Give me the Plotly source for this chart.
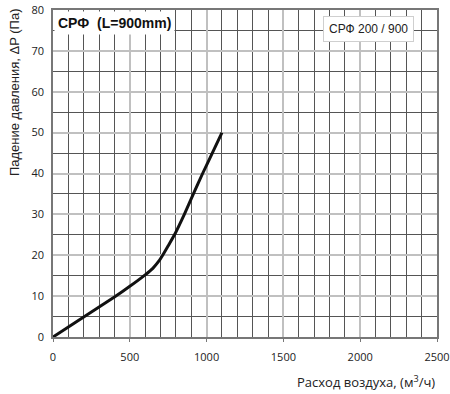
import plotly.graph_objects as go

# Data
airflow = [0, 100, 200, 300, 400, 500, 600, 650, 690, 714, 750, 791, 855, 914, 974, 1037, 1100]
pressure = [0, 2.45, 4.9, 7.35, 9.8, 12.4, 15.2, 16.8, 18.6, 20, 22.3, 25, 30, 35, 40, 45, 50]
series_name = "СРФ 200 / 900"
chart_title = "СРФ  (L=900mm)"
y_title = "Падение давления, ΔP (Па)"
x_title = "Расход воздуха, (м<sup>3</sup>/ч)"
x_ticks = [0, 500, 1000, 1500, 2000, 2500]
y_ticks = [0, 10, 20, 30, 40, 50, 60, 70, 80]

fig = go.Figure()
fig.add_trace(go.Scatter(x=airflow, y=pressure, mode="lines", name=series_name,
                         line=dict(color="#111111", width=3, shape="spline", smoothing=0.3),
                         showlegend=False))

tick_font = dict(family="Open Sans", size=11, color="#222")
fig.update_layout(
    width=450, height=394,
    margin=dict(l=53, r=13, t=10, b=57),
    paper_bgcolor="white", plot_bgcolor="white",
    xaxis=dict(range=[0, 2500], tickvals=x_ticks, showgrid=True, gridcolor="#c0c0c0", gridwidth=1.5,
               minor=dict(dtick=100, showgrid=True, gridcolor="#555555", gridwidth=1),
               showline=True, linecolor="#777", linewidth=1.5, mirror=True,
               ticks="outside", ticklen=3, tickcolor="#777", ticklabelstandoff=6,
               tickfont=tick_font, zeroline=False, fixedrange=True, automargin=False),
    yaxis=dict(range=[0, 80], tickvals=y_ticks, showgrid=True, gridcolor="#c0c0c0", gridwidth=1.5,
               minor=dict(dtick=5, showgrid=True, gridcolor="#555555", gridwidth=1),
               showline=True, linecolor="#777", linewidth=1.5, mirror=True,
               ticks="", tickfont=tick_font, zeroline=False, fixedrange=True, automargin=False,
               ticklabelstandoff=5),
    annotations=[
        dict(xref="paper", yref="paper", x=0.003, y=0.997, xanchor="left", yanchor="top",
             text="<b>" + chart_title + "</b>", showarrow=False,
             font=dict(family="Liberation Sans", size=14, color="#111"),
             bgcolor="white", borderpad=3),
        dict(xref="paper", yref="paper", x=0.94, y=0.982, xanchor="right", yanchor="top",
             text=series_name, showarrow=False,
             font=dict(family="Liberation Sans", size=12, color="#222"),
             bgcolor="white", bordercolor="#cfcfcf", borderwidth=1, borderpad=5),
        dict(xref="paper", yref="paper", x=-0.1016, y=1.012, xanchor="center", yanchor="top",
             text=y_title, showarrow=False, textangle=-90,
             font=dict(family="Liberation Sans", size=13, color="#222")),
        dict(xref="paper", yref="paper", x=1.0, y=-0.10, xanchor="right", yanchor="top",
             text=x_title, showarrow=False,
             font=dict(family="Open Sans", size=13, color="#222")),
    ],
)

fig.write_html("out.html", config={"displayModeBar": False},
               post_script="document.body.style.margin='0px';")
